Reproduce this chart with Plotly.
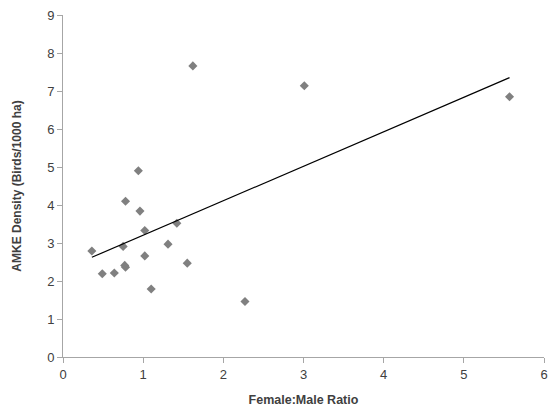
import numpy as np
import plotly.graph_objects as go

ratio = [0.36, 0.49, 0.64, 0.75, 0.77, 0.78, 0.78, 0.94, 0.96, 1.02, 1.02, 1.10,
         1.31, 1.42, 1.55, 1.62, 2.27, 3.01, 5.57]
density = [2.79, 2.19, 2.21, 2.91, 2.41, 2.36, 4.10, 4.90, 3.84, 3.33, 2.66, 1.79,
           2.97, 3.52, 2.47, 7.66, 1.46, 7.14, 6.85]

slope, intercept = np.polyfit(ratio, density, 1)
xfit = [min(ratio), max(ratio)]
yfit = [slope * v + intercept for v in xfit]

fig = go.Figure()
fig.add_trace(go.Scatter(x=ratio, y=density, mode="markers",
                         marker=dict(symbol="diamond", size=7, color="#808080"),
                         showlegend=False))
fig.add_trace(go.Scatter(x=xfit, y=yfit, mode="lines",
                         line=dict(color="black", width=1.2), showlegend=False))

font_family = "Liberation Sans Narrow, Liberation Sans, Arial"
fig.update_layout(
    width=558, height=407,
    margin=dict(l=63, r=14, t=15, b=50),
    paper_bgcolor="white", plot_bgcolor="white",
    font=dict(family=font_family, size=13, color="#404040"),
)
fig.update_xaxes(range=[0, 6], dtick=1, showgrid=False, zeroline=False,
                 showline=True, linecolor="#a6a6a6", linewidth=1,
                 ticks="outside", ticklen=5, tickcolor="#a6a6a6", automargin=False,
                 title=dict(text="<b>Female:Male Ratio</b>", standoff=14,
                            font=dict(size=12.5, color="#404040")))
fig.update_yaxes(range=[0, 9], dtick=1, showgrid=False, zeroline=False,
                 showline=True, linecolor="#a6a6a6", linewidth=1,
                 ticks="outside", ticklen=5, tickcolor="#a6a6a6", automargin=False,
                 title=dict(text="<b>AMKE Density (Birds/1000 ha)</b>", standoff=22,
                            font=dict(size=12, color="#404040")))

fig.write_html("out.html", config={"displayModeBar": False},
               post_script="document.body.style.margin='0';document.body.style.overflow='hidden';")
